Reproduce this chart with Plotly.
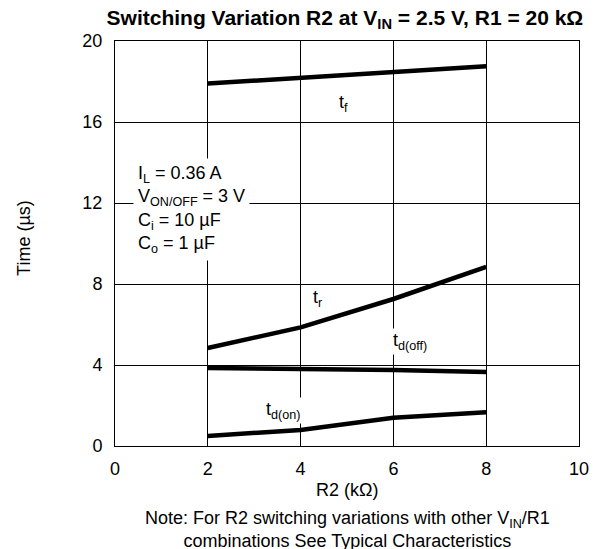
import plotly.graph_objects as go

r2 = [2, 4, 6, 8]
t_f = [17.9, 18.2, 18.45, 18.75]
t_r = [4.84, 5.86, 7.26, 8.85]
t_doff = [3.85, 3.81, 3.75, 3.65]
t_don = [0.5, 0.79, 1.39, 1.67]

x_ticks = [0, 2, 4, 6, 8, 10]
y_ticks = [0, 4, 8, 12, 16, 20]

FONT = "Liberation Sans, Arial, sans-serif"
FS = 18

fig = go.Figure()
for ys in [t_f, t_r, t_doff, t_don]:
    fig.add_trace(go.Scatter(x=r2, y=ys, mode="lines",
                             line=dict(color="black", width=4.5),
                             showlegend=False, hoverinfo="skip"))

labels = [
    (4.93, 16.9, "t<sub>f</sub>"),
    (4.37, 7.3, "t<sub>r</sub>"),
    (6.36, 5.14, "t<sub>d(off)</sub>"),
    (3.62, 1.75, "t<sub>d(on)</sub>"),
]
for x, y, t in labels:
    fig.add_annotation(x=x, y=y, text=t, showarrow=False,
                       font=dict(family=FONT, size=FS, color="black"),
                       bgcolor="white")

fig.add_annotation(x=0.39, y=11.7, xanchor="left", yanchor="middle",
                   text="I<sub>L</sub> = 0.36 A<br>V<sub>ON/OFF</sub> = 3 V<br>C<sub>i</sub> = 10 µF<br>C<sub>o</sub> = 1 µF",
                   align="left", showarrow=False, bgcolor="white", borderpad=4,
                   font=dict(family=FONT, size=FS, color="black"))

# axis titles and note placed in paper coordinates
fig.add_annotation(xref="paper", yref="paper", x=-0.196, y=0.514,
                   xanchor="center", yanchor="middle",
                   text="Time (µs)", textangle=-90, showarrow=False,
                   font=dict(family=FONT, size=FS, color="black"))
fig.add_annotation(xref="paper", yref="paper", x=0.5, y=-0.109,
                   xanchor="center", yanchor="middle",
                   text="R2 (kΩ)", showarrow=False,
                   font=dict(family=FONT, size=FS, color="black"))
fig.add_annotation(xref="paper", yref="paper", x=0.5, y=-0.207,
                   xanchor="center", yanchor="middle",
                   text="Note: For R2 switching variations with other V<sub>IN</sub>/R1<br>combinations See Typical Characteristics",
                   showarrow=False, align="center",
                   font=dict(family=FONT, size=FS, color="black"))

# the page body adds an 8px offset, so the figure is sized to fit the window
fig.update_layout(
    width=589, height=541,
    margin=dict(l=107, r=18, t=33, b=103),
    paper_bgcolor="white", plot_bgcolor="white",
    font=dict(family=FONT, size=FS, color="black"),
    title=dict(text="<b>Switching Variation R2 at V<sub>IN</sub> = 2.5 V, R1 = 20 kΩ</b>",
               x=0.572, xanchor="center", yref="container", y=0.983, yanchor="middle",
               font=dict(family=FONT, size=21, color="black")),
    xaxis=dict(range=[0, 10], tickvals=x_ticks, ticks="", showgrid=True,
               gridcolor="black", gridwidth=1, zeroline=False, automargin=False,
               showline=True, linecolor="black", linewidth=1, mirror=True,
               tickfont=dict(size=FS), ticklabelstandoff=6),
    yaxis=dict(range=[0, 20], tickvals=y_ticks, ticks="", showgrid=True,
               gridcolor="black", gridwidth=1, zeroline=False, automargin=False,
               showline=True, linecolor="black", linewidth=1, mirror=True,
               tickfont=dict(size=FS), ticklabelstandoff=8),
)

fig.write_html("out.html")
